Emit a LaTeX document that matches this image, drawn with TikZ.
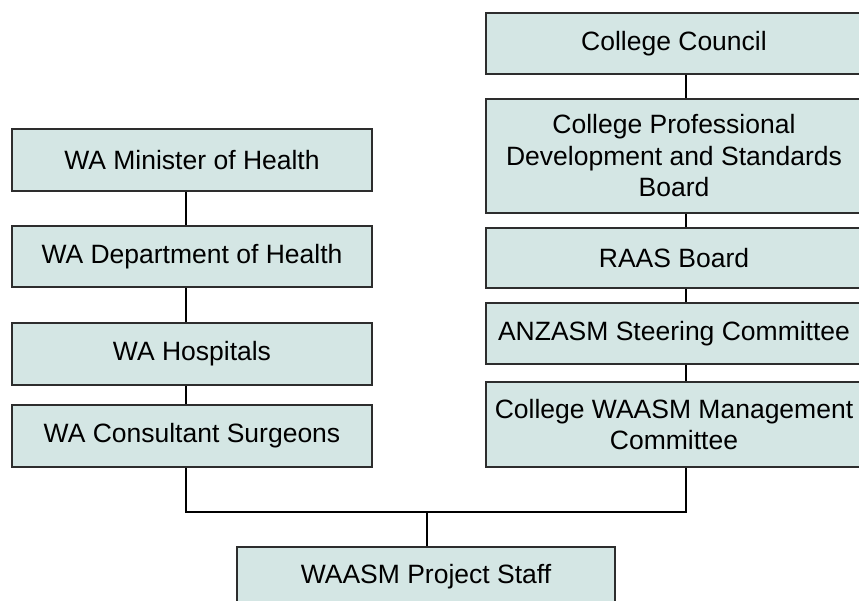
\documentclass[tikz,border=0pt]{standalone}
\usepackage{fontspec}
\setmainfont{Liberation Sans}
\definecolor{boxfill}{RGB}{212,230,228}
\definecolor{boxline}{RGB}{45,45,45}
\begin{document}
\begin{tikzpicture}[x=1pt,y=-1pt,
  orgbox/.style={draw=boxline,line width=1.2pt,fill=boxfill,inner sep=0pt,
    align=center,font=\fontsize{26.5}{31.5}\selectfont,text=black},
  link/.style={draw=black,line width=2pt}]
\useasboundingbox (0,0) rectangle (859,600);
\clip (0,0) rectangle (859,600);
% left column
\node[orgbox,minimum width=360pt,minimum height=62pt] (min) at (192,160) {WA Minister of Health};
\node[orgbox,minimum width=360pt,minimum height=61pt] (dep) at (192,256.5) {WA Department of Health};
\node[orgbox,minimum width=360pt,minimum height=62pt] (hos) at (192,354) {WA Hospitals};
\node[orgbox,minimum width=360pt,minimum height=62pt] (sur) at (192,436) {WA Consultant Surgeons};
% right column
\node[orgbox,minimum width=376pt,minimum height=61pt] (cou) at (674,43.5) {College Council};
\node[orgbox,minimum width=376pt,minimum height=114pt] (pro) at (674,156) {College Professional\\Development and Standards\\Board};
\node[orgbox,minimum width=376pt,minimum height=60pt] (raa) at (674,258) {RAAS Board};
\node[orgbox,minimum width=376pt,minimum height=61pt] (anz) at (674,333.5) {ANZASM Steering Committee};
\node[orgbox,minimum width=376pt,minimum height=85pt] (man) at (674,424.5) {College WAASM Management\\Committee};
% bottom
\node[orgbox,minimum width=378pt,minimum height=60pt] (sta) at (426,577) {WAASM Project Staff};
% connector positions
\coordinate (lx) at (186,0);
\coordinate (rx) at (686,0);
\coordinate (bus) at (427,512);
% left links
\draw[link] (min.south -| lx) -- (dep.north -| lx);
\draw[link] (dep.south -| lx) -- (hos.north -| lx);
\draw[link] (hos.south -| lx) -- (sur.north -| lx);
% right links
\draw[link] (cou.south -| rx) -- (pro.north -| rx);
\draw[link] (pro.south -| rx) -- (raa.north -| rx);
\draw[link] (raa.south -| rx) -- (anz.north -| rx);
\draw[link] (anz.south -| rx) -- (man.north -| rx);
% joint
\draw[link] (sur.south -| lx) |- (bus) -| (man.south -| rx);
\draw[link] (bus) -- (bus |- sta.north);
\end{tikzpicture}
\end{document}
